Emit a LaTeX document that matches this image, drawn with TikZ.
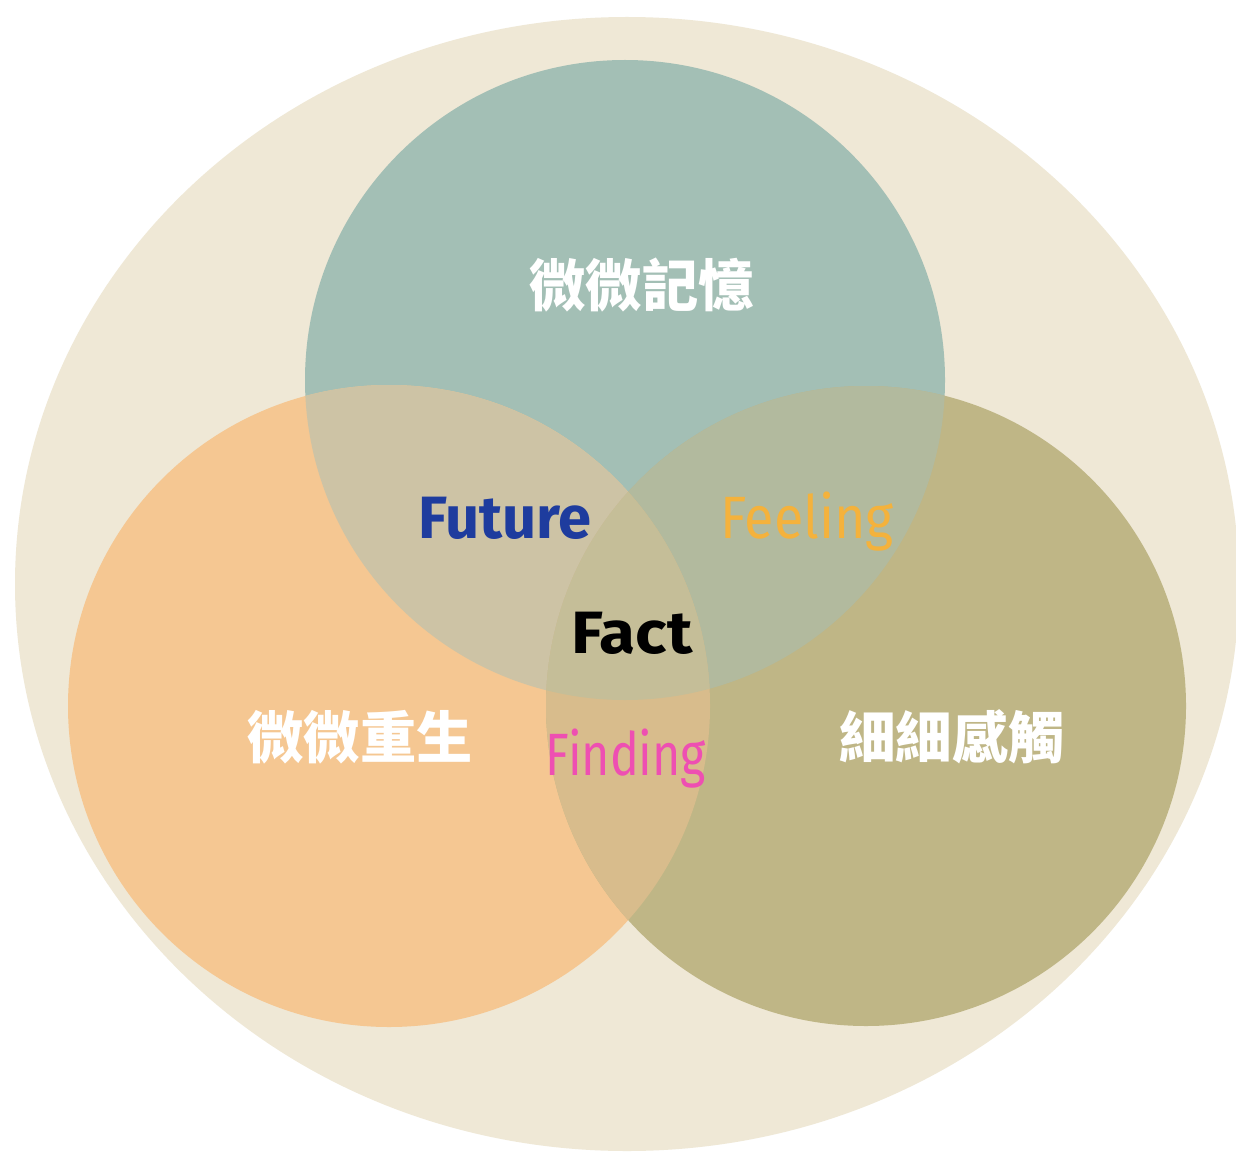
\documentclass[tikz,border=0pt]{standalone}
\usepackage{fontspec}
\setmainfont{Fira Sans}
\newfontfamily\cjkfont{Noto Sans CJK TC}
\definecolor{cream}{HTML}{EFE8D6}
\definecolor{teal1}{HTML}{A3BFB5}
\definecolor{orange1}{HTML}{F5C792}
\definecolor{olive1}{HTML}{BFB686}
\definecolor{mixTL}{HTML}{CDC3A5}
\definecolor{mixTR}{HTML}{B2BA9E}
\definecolor{mixLR}{HTML}{D8BC8C}
\definecolor{mixTLR}{HTML}{C5BE98}
\definecolor{blueF}{HTML}{1E3C9E}
\definecolor{orangeF}{HTML}{F4B23C}
\definecolor{pinkF}{HTML}{EE4FB2}
\tikzset{
  cjklabel/.style={text=white, font=\cjkfont\bfseries\fontsize{32}{36}\selectfont, inner sep=0pt},
  enlabel/.style={inner sep=0pt, anchor=base, transform shape, font=\fontsize{34}{40}\selectfont}
}
\begin{document}
\begin{tikzpicture}[x=0.02cm,y=-0.02cm]
\useasboundingbox (0,0) rectangle (1236,1155);
\fill[white] (0,0) rectangle (1236,1155);
\fill[cream] (627,584) ellipse [x radius=612, y radius=567];
\def\Tc{(625,380) circle [radius=320]}
\def\Lc{(389,706) circle [radius=321]}
\def\Rc{(866,706) circle [radius=320]}
\fill[teal1] \Tc;
\fill[orange1] \Lc;
\fill[olive1] \Rc;
\begin{scope}\clip \Tc; \fill[mixTL] \Lc; \end{scope}
\begin{scope}\clip \Tc; \fill[mixTR] \Rc; \end{scope}
\begin{scope}\clip \Lc; \fill[mixLR] \Rc; \end{scope}
\begin{scope}\clip \Tc; \clip \Lc; \fill[mixTLR] \Rc; \end{scope}
\node[cjklabel] (mem) at (642,285) {微微記憶};
\node[cjklabel] (reb) at (360,737) {微微重生};
\node[cjklabel] (tou) at (952,737) {細細感觸};
\node[enlabel, text=blueF, font=\bfseries\fontsize{34}{40}\selectfont] (fut) at (505,538) {Future};
\node[enlabel, text=orangeF, xscale=0.9] (fee) at (807,538) {Feeling};
\node[enlabel, text=black, xscale=1.1, font=\bfseries\fontsize{34}{40}\selectfont] (fac) at (632,653) {Fact};
\node[enlabel, text=pinkF, xscale=0.81] (fin) at (626,775) {Finding};
\end{tikzpicture}
\end{document}
